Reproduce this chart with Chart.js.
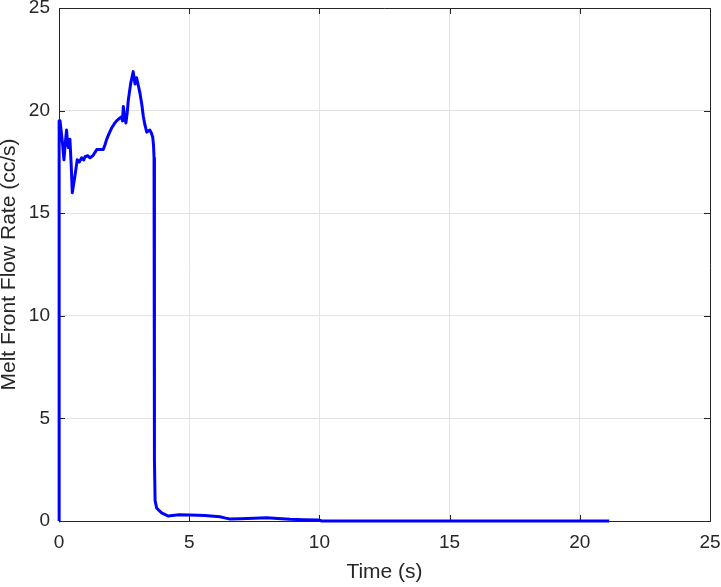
<!DOCTYPE html>
<html>
<head>
<meta charset="utf-8">
<script src="https://cdn.jsdelivr.net/npm/chart.js@4/dist/chart.umd.min.js"></script>
<style>
html,body{margin:0;padding:0;background:#fff;}
#wrap{width:721px;height:587px;}
</style>
</head>
<body>
<div id="wrap"><canvas id="c" width="721" height="587"></canvas></div>
<script>
const timeS = [0, 0.005, 0.04, 0.1, 0.15, 0.19, 0.24, 0.29, 0.33, 0.36, 0.42, 0.47, 0.51, 0.56, 0.61, 0.7, 0.78, 0.87, 0.95, 1.0, 1.1, 1.19, 1.3, 1.45, 1.6, 1.7, 1.77, 1.83, 1.93, 2.02, 2.12, 2.21, 2.3, 2.41, 2.44, 2.47, 2.52, 2.57, 2.62, 2.66, 2.75, 2.85, 2.92, 2.98, 3.05, 3.11, 3.18, 3.24, 3.3, 3.37, 3.43, 3.49, 3.55, 3.6, 3.63, 3.65, 3.66, 3.67, 3.69, 3.75, 3.85, 3.94, 4.2, 4.6, 5.03, 5.6, 6.18, 6.4, 6.57, 6.95, 7.5, 7.97, 8.4, 8.87, 9.4, 9.96, 10.1, 12, 15, 18, 21.13];
const flowRate = [0, 19.5, 19.5, 18.8, 18.2, 17.6, 18.4, 19.05, 18.4, 18.2, 18.6, 17.3, 16.0, 16.4, 16.8, 17.6, 17.5, 17.7, 17.6, 17.75, 17.8, 17.7, 17.8, 18.1, 18.1, 18.1, 18.35, 18.6, 18.9, 19.15, 19.35, 19.5, 19.6, 19.7, 19.5, 20.2, 19.7, 19.4, 19.9, 20.5, 21.3, 21.9, 21.3, 21.6, 21.2, 20.85, 20.3, 19.7, 19.3, 18.95, 19.0, 19.05, 18.9, 18.7, 18.3, 17.7, 10.0, 3.0, 1.0, 0.63, 0.5, 0.4, 0.24, 0.3, 0.29, 0.27, 0.21, 0.14, 0.1, 0.11, 0.13, 0.16, 0.12, 0.08, 0.06, 0.05, 0.0, 0.0, 0.0, 0.0, 0.0];
const xTicks = [0, 5, 10, 15, 20, 25];
const yTicks = [0, 5, 10, 15, 20, 25];

const points = timeS.map((t, i) => ({x: t, y: flowRate[i]}));

const boxPlugin = {
  id: 'box',
  beforeDatasetsDraw(chart) {
    const {ctx, chartArea: a, scales} = chart;
    ctx.save();
    ctx.strokeStyle = '#262626';
    ctx.lineWidth = 1;
    ctx.beginPath();
    ctx.moveTo(a.left, a.top + 0.5);
    ctx.lineTo(a.right + 0.5, a.top + 0.5);
    ctx.lineTo(a.right + 0.5, a.bottom);
    ctx.stroke();
    const L = 6;
    ctx.beginPath();
    xTicks.forEach(v => {
      const px = Math.round(scales.x.getPixelForValue(v)) + 0.5;
      ctx.moveTo(px, a.bottom); ctx.lineTo(px, a.bottom - L);
      ctx.moveTo(px, a.top); ctx.lineTo(px, a.top + L);
    });
    yTicks.forEach(v => {
      const py = Math.round(scales.y.getPixelForValue(v)) + 0.5;
      ctx.moveTo(a.left, py); ctx.lineTo(a.left + L, py);
      ctx.moveTo(a.right, py); ctx.lineTo(a.right - L, py);
    });
    ctx.stroke();
    ctx.restore();
  }
};

function zeroPad(s) { s.paddingTop = 0; s.paddingBottom = 0; s.paddingLeft = 0; s.paddingRight = 0; }

new Chart(document.getElementById('c'), {
  type: 'scatter',
  data: {
    datasets: [{
      data: points,
      showLine: true,
      borderColor: '#0000ff',
      backgroundColor: '#0000ff',
      borderWidth: 3,
      borderJoinStyle: 'round',
      pointRadius: 0,
      tension: 0,
      clip: false
    }]
  },
  options: {
    responsive: false,
    animation: false,
    devicePixelRatio: 1,
    layout: {padding: {left: 0, top: 8, right: 11, bottom: 0}},
    plugins: {legend: {display: false}, tooltip: {enabled: false}},
    scales: {
      x: {
        type: 'linear', min: 0, max: 25,
        afterFit(s) { s.height = 66; zeroPad(s); },
        afterBuildTicks(s) { s.ticks = xTicks.map(v => ({value: v})); },
        grid: {color: '#e3e3e3', drawTicks: false},
        border: {color: '#262626', width: 1},
        ticks: {color: '#262626', font: {family: 'Liberation Sans, Arial', size: 19}, padding: 10},
        title: {display: true, text: 'Time (s)', color: '#262626', font: {family: 'Liberation Sans, Arial', size: 21}, padding: {top: 0, bottom: 2}}
      },
      y: {
        type: 'linear', min: 0, max: 25,
        afterFit(s) { s.width = 59; zeroPad(s); },
        afterBuildTicks(s) { s.ticks = yTicks.map(v => ({value: v})); },
        grid: {color: '#e3e3e3', drawTicks: false},
        border: {color: '#262626', width: 1},
        ticks: {color: '#262626', font: {family: 'Liberation Sans, Arial', size: 19}, padding: 9},
        title: {display: true, text: 'Melt Front Flow Rate (cc/s)', color: '#262626', font: {family: 'Liberation Sans, Arial', size: 21}, padding: {top: -3, bottom: 0}}
      }
    }
  },
  plugins: [boxPlugin]
});
</script>
</body>
</html>
